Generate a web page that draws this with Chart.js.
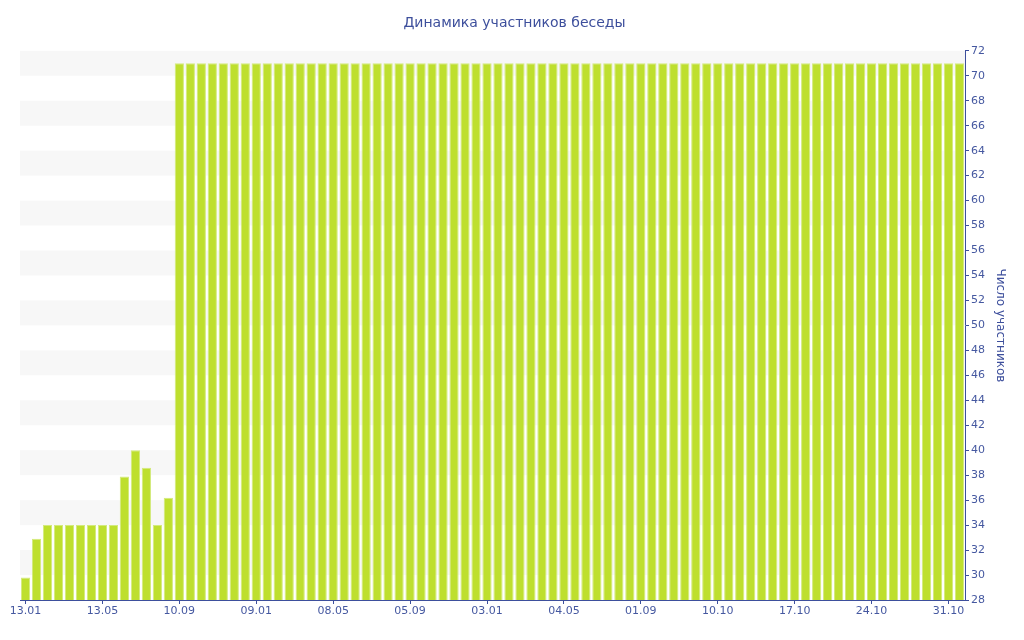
<!DOCTYPE html>
<html>
<head>
<meta charset="utf-8">
<script src="https://cdn.jsdelivr.net/npm/chart.js@4/dist/chart.umd.min.js"></script>
<style>
  body { margin: 0; background: #fff; }
  canvas { display: block; }
</style>
</head>
<body>
<canvas id="chart" width="1024" height="640"></canvas>
<script>
// tick labels shown every 7th bar
const tickLabels = ['13.01', '13.05', '10.09', '09.01', '08.05', '05.09', '03.01',
    '04.05', '01.09', '10.10', '17.10', '24.10', '31.10'];
const tickStep = 7;

// participants per bar (86 bars)
const firstValues = [29.8, 32.9, 34, 34, 34, 34, 34, 34, 34, 37.9, 40, 38.6, 34, 36.2];
const flatValue = 71;
const flatCount = 72;

const participants = firstValues.slice();
for (let i = 0; i < flatCount; i++) participants.push(flatValue);

// category labels: real label at tick positions, blank elsewhere
const categories = participants.map((v, i) => i % tickStep === 0 ? tickLabels[i / tickStep] : '');

const axisColor = '#3d4f9c';
const textColor = '#4558a0';

// draws light grey bands between every other pair of y ticks
const bandsPlugin = {
    id: 'bands',
    beforeDatasetsDraw(chart) {
        const { ctx, chartArea, scales } = chart;
        const y = scales.y;
        ctx.save();
        ctx.fillStyle = '#f7f7f7';
        for (let top = 72; top > 28; top -= 4) {
            const y1 = y.getPixelForValue(top);
            const y2 = y.getPixelForValue(top - 2);
            ctx.fillRect(chartArea.left, y1, chartArea.right - chartArea.left, y2 - y1);
        }
        ctx.restore();
    }
};

const ctx = document.getElementById('chart').getContext('2d');
new Chart(ctx, {
    type: 'bar',
    data: {
        labels: categories,
        datasets: [{
            data: participants,
            backgroundColor: '#bedf2e',
            borderColor: '#d3ea7c',
            borderWidth: 1,
            barPercentage: 0.84,
            categoryPercentage: 1
        }]
    },
    options: {
        responsive: false,
        animation: false,
        layout: { padding: { left: 20, right: 15, top: 0, bottom: 0 } },
        plugins: {
            legend: { display: false },
            tooltip: { enabled: false },
            title: {
                display: true,
                text: 'Динамика участников беседы',
                color: axisColor,
                font: { family: 'DejaVu Sans', size: 14, weight: 'normal' },
                padding: { top: 15, bottom: 19 }
            }
        },
        scales: {
            x: {
                offset: true,
                grid: {
                    display: true,
                    drawOnChartArea: false,
                    offset: false,
                    tickLength: 4,
                    color: axisColor
                },
                border: { display: true, color: axisColor, width: 1 },
                ticks: {
                    autoSkip: false,
                    maxRotation: 0,
                    padding: 1,
                    color: textColor,
                    font: { family: 'DejaVu Sans', size: 11 }
                },
                afterBuildTicks(scale) {
                    scale.ticks = scale.ticks.filter(t => t.value % tickStep === 0);
                },
                afterFit(scale) { scale.height = 40; }
            },
            y: {
                position: 'right',
                min: 28,
                max: 72,
                grid: {
                    display: true,
                    drawOnChartArea: false,
                    tickLength: 4,
                    color: axisColor
                },
                border: { display: true, color: axisColor, width: 1 },
                ticks: {
                    stepSize: 2,
                    padding: 2,
                    color: textColor,
                    font: { family: 'DejaVu Sans', size: 11 }
                },
                title: {
                    display: true,
                    text: 'Число участников',
                    color: axisColor,
                    font: { family: 'DejaVu Sans', size: 12 },
                    padding: { top: 2, bottom: 4 }
                },
                afterFit(scale) { scale.width = 44; }
            }
        }
    },
    plugins: [bandsPlugin]
});
</script>
</body>
</html>
